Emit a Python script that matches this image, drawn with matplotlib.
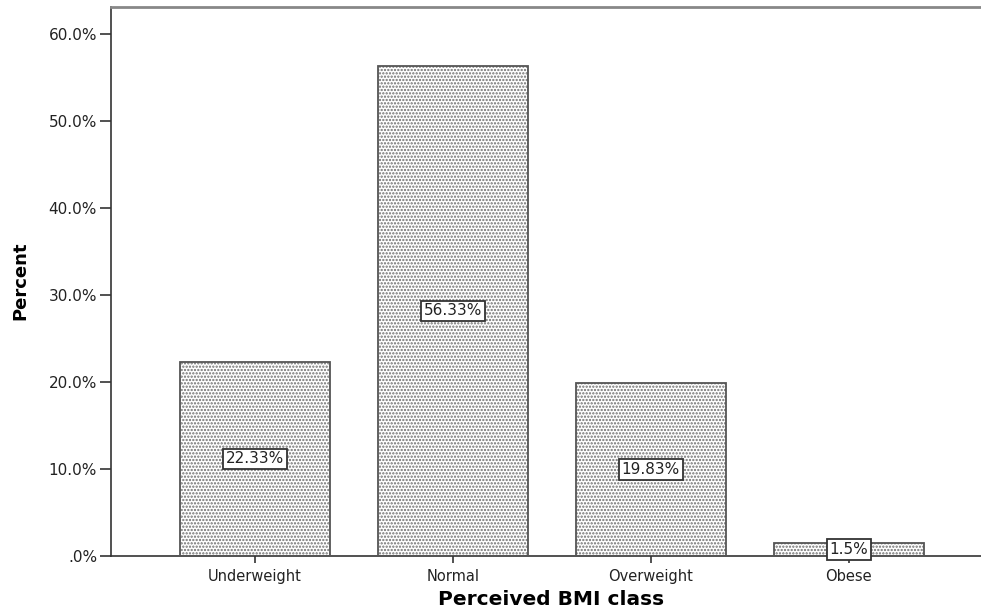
import matplotlib.pyplot as plt
import numpy as np

categories = ["Underweight", "Normal", "Overweight", "Obese"]
percents = [22.33, 56.33, 19.83, 1.5]
bar_labels = ["22.33%", "56.33%", "19.83%", "1.5%"]
yticks = [0, 10, 20, 30, 40, 50, 60]
ytick_labels = [".0%", "10.0%", "20.0%", "30.0%", "40.0%", "50.0%", "60.0%"]

plt.rcParams['font.family'] = ['DejaVu Sans']
plt.rcParams['hatch.linewidth'] = 1.1

fig = plt.figure(figsize=(9.81, 6.16), dpi=100)
ax = fig.add_axes([0.1131, 0.0974, 0.8869, 0.8912])

x = np.arange(len(categories))
# dotted fill, then the outline on top
ax.bar(x, percents, width=0.758, color='white', edgecolor='#6e6e6e',
       hatch='.....', linewidth=0, zorder=2)
ax.bar(x, percents, width=0.758, fill=False, edgecolor='#555555',
       linewidth=1.3, zorder=3)

for xi, p, lab in zip(x, percents, bar_labels):
    ax.text(xi, p / 2, lab, ha='center', va='center', fontsize=11, color='#222222',
            zorder=4, bbox=dict(boxstyle='square,pad=0.18', facecolor='white',
                                edgecolor='#333333', linewidth=1.3))

ax.set_xlim(-0.727, 3.667)
ax.set_ylim(0, 63.1)
ax.set_xticks(x)
ax.set_xticklabels(categories, fontsize=10.5, color='#222222')
ax.set_yticks(yticks)
ax.set_yticklabels(ytick_labels, fontsize=11, color='#222222')
ax.tick_params(axis='y', length=8, width=1.2, color='#333333', pad=2)
ax.tick_params(axis='x', length=5, width=1.2, color='#333333', pad=4)

ax.spines['right'].set_visible(False)
ax.spines['top'].set_color('#888888')
ax.spines['top'].set_linewidth(2)
for s in ['left', 'bottom']:
    ax.spines[s].set_color('#333333')
    ax.spines[s].set_linewidth(1.2)

fig.text(0.5617, 0.027, "Perceived BMI class", ha='center', va='center',
         fontsize=14.5, fontweight='bold', color='black')
fig.text(0.0204, 0.545, "Percent", ha='center', va='center', rotation=90,
         fontsize=13, fontweight='bold', color='black')

fig.savefig("out.png", dpi=100)
